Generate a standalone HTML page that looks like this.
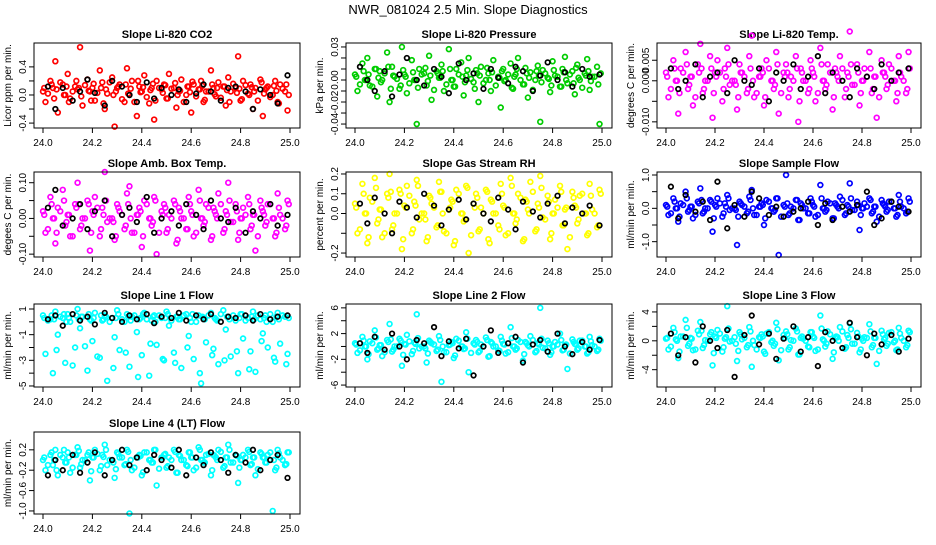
<!DOCTYPE html>
<html><head><meta charset="utf-8"><style>
html,body{margin:0;padding:0;background:#fff;}
svg text{font-family:"Liberation Sans",sans-serif;}
</style></head><body>
<svg id="c" width="936" height="540" viewBox="0 0 936 540" xmlns="http://www.w3.org/2000/svg">
<text x="468" y="14" text-anchor="middle" font-size="13">NWR_081024  2.5 Min. Slope Diagnostics</text>
</svg>
<script>
const times = [24.00,24.01,24.03,24.04,24.05,24.06,24.08,24.09,24.10,24.11,24.13,24.14,24.15,24.16,24.18,24.19,24.20,24.21,24.23,24.24,24.25,24.26,24.28,24.29,24.30,24.31,24.33,24.34,24.35,24.36,24.38,24.39,24.40,24.41,24.43,24.44,24.45,24.46,24.48,24.49,24.50,24.51,24.53,24.54,24.55,24.56,24.58,24.59,24.60,24.61,24.63,24.64,24.65,24.66,24.68,24.69,24.70,24.71,24.73,24.74,24.75,24.76,24.78,24.79,24.80,24.81,24.83,24.84,24.85,24.86,24.88,24.89,24.90,24.91,24.93,24.94,24.95,24.96,24.98,24.99];
const times2 = [24.005,24.02,24.035,24.045,24.055,24.07,24.085,24.095,24.105,24.12,24.135,24.145,24.155,24.17,24.185,24.195,24.205,24.22,24.235,24.245,24.255,24.27,24.285,24.295,24.305,24.32,24.335,24.345,24.355,24.37,24.385,24.395,24.405,24.42,24.435,24.445,24.455,24.47,24.485,24.495,24.505,24.52,24.535,24.545,24.555,24.57,24.585,24.595,24.605,24.62,24.635,24.645,24.655,24.67,24.685,24.695,24.705,24.72,24.735,24.745,24.755,24.77,24.785,24.795,24.805,24.82,24.835,24.845,24.855,24.87,24.885,24.895,24.905,24.92,24.935,24.945,24.955,24.97,24.985,24.995];
const blackTimes = [24.02,24.05,24.08,24.12,24.15,24.18,24.21,24.25,24.28,24.32,24.35,24.38,24.42,24.45,24.48,24.52,24.55,24.58,24.62,24.65,24.68,24.72,24.75,24.78,24.82,24.85,24.88,24.92,24.95,24.99];
const xTicks = [24.0,24.2,24.4,24.6,24.8,25.0];
const xTickLabels = ["24.0","24.2","24.4","24.6","24.8","25.0"];

const co2Vals = [0.05,-0.1,0.2,0.1,0.48,-0.25,0.15,0.0,0.3,-0.05,0.12,0.08,0.68,-0.15,0.22,0.05,0.1,-0.08,0.35,0.18,-0.2,0.02,0.25,-0.45,0.1,0.15,-0.1,0.38,0.0,0.2,-0.3,0.12,0.05,0.28,-0.12,0.1,-0.35,0.2,0.08,0.15,-0.05,0.3,0.1,-0.18,0.05,0.22,0.0,0.12,-0.25,0.15,0.08,0.2,-0.1,0.05,0.35,0.1,-0.02,0.18,0.12,-0.15,0.25,0.05,0.1,0.55,-0.08,0.2,0.02,0.15,-0.2,0.1,0.22,-0.3,0.08,0.12,0.0,0.2,-0.1,0.15,0.05,-0.22];
const co2Vals2 = [0.1,0.02,0.15,-0.05,0.08,0.18,0.0,0.12,-0.1,0.05,0.2,0.1,-0.02,0.14,0.06,-0.08,0.16,0.03,0.1,-0.12,0.08,0.18,0.0,0.05,0.12,-0.06,0.15,0.02,0.09,-0.1,0.2,0.04,0.11,-0.03,0.07,0.16,-0.08,0.1,0.03,0.14,-0.05,0.09,0.17,0.0,0.06,-0.1,0.12,0.04,0.19,-0.02,0.08,0.13,-0.07,0.05,0.15,0.01,0.1,-0.04,0.12,0.07,-0.1,0.16,0.03,0.09,-0.06,0.14,0.0,0.11,0.05,-0.08,0.18,0.02,0.1,-0.03,0.13,0.06,-0.12,0.09,0.15,0.0];
const co2Black = [0.12,-0.2,0.1,-0.08,0.05,0.22,0.03,-0.15,0.2,0.12,0.0,-0.1,0.18,-0.05,0.1,0.0,0.08,-0.1,0.02,0.15,0.05,-0.08,0.1,0.12,0.05,-0.2,0.08,0.0,-0.12,0.28];
const presVals = [0.005,-0.01,0.015,0.0,0.02,-0.005,0.01,-0.015,0.008,0.0,0.025,-0.02,0.012,0.003,-0.008,0.03,0.005,-0.012,0.018,0.0,-0.04,0.01,0.006,-0.005,0.022,-0.018,0.008,0.002,0.014,-0.01,0.028,0.0,-0.006,0.01,0.016,-0.014,0.004,0.02,-0.002,0.009,-0.02,0.012,0.0,0.006,-0.01,0.018,0.003,-0.025,0.01,0.0,0.015,-0.008,0.005,0.02,-0.004,0.011,-0.016,0.007,0.0,0.013,-0.038,0.009,0.002,-0.011,0.017,0.004,-0.006,0.01,0.021,-0.003,0.008,-0.013,0.014,0.0,0.006,0.019,-0.009,0.003,0.012,-0.04];
const presVals2 = [0.003,-0.004,0.008,0.0,0.005,-0.006,0.01,0.002,-0.002,0.006,0.012,-0.008,0.004,0.001,-0.005,0.009,0.003,-0.003,0.007,0.0,-0.007,0.005,0.011,-0.001,0.004,-0.009,0.006,0.002,0.008,-0.004,0.01,0.0,-0.006,0.005,0.003,-0.002,0.009,0.001,-0.008,0.006,0.004,-0.003,0.011,0.0,0.007,-0.005,0.002,0.008,-0.001,0.005,-0.007,0.003,0.01,0.0,-0.004,0.006,0.002,-0.009,0.008,0.004,-0.002,0.006,0.001,-0.005,0.009,0.003,-0.006,0.007,0.0,0.005,-0.003,0.011,0.002,-0.007,0.004,0.008,-0.001,0.003,-0.004,0.006];
const presBlack = [0.012,0.0,-0.01,0.008,-0.015,0.005,0.02,0.0,-0.005,0.01,0.003,-0.012,0.015,0.0,0.006,-0.008,0.01,0.002,-0.003,0.012,0.008,-0.01,0.004,0.016,0.0,0.007,-0.006,0.01,0.003,0.005];
const tempVals = [0.002,-0.004,0.005,0.0,-0.008,0.003,0.007,-0.002,0.001,-0.006,0.004,0.009,-0.003,0.0,0.006,-0.009,0.002,0.005,-0.005,0.003,0.008,-0.001,0.0,-0.007,0.004,0.002,-0.003,0.006,0.011,-0.004,0.001,0.003,-0.006,0.005,0.0,-0.002,0.007,-0.008,0.002,0.004,-0.004,0.001,0.006,-0.01,0.003,0.0,-0.003,0.005,0.002,-0.005,0.008,0.0,-0.002,0.004,-0.007,0.003,0.001,0.006,-0.004,0.002,0.012,-0.001,0.004,-0.006,0.0,0.003,0.007,-0.003,0.001,-0.009,0.005,0.002,-0.002,0.004,0.0,-0.005,0.006,0.001,-0.003,0.007];
const tempVals2 = [0.001,-0.002,0.003,0.0,-0.003,0.002,0.004,-0.001,0.001,-0.004,0.002,0.003,-0.002,0.0,0.003,-0.003,0.001,0.002,-0.002,0.001,0.004,0.0,-0.001,-0.004,0.002,0.001,-0.002,0.003,0.0,-0.003,0.001,0.002,-0.004,0.003,0.0,-0.001,0.004,-0.003,0.001,0.002,-0.002,0.0,0.003,-0.005,0.002,0.0,-0.002,0.003,0.001,-0.003,0.004,0.0,-0.001,0.002,-0.004,0.002,0.0,0.003,-0.002,0.001,0.004,-0.001,0.002,-0.003,0.0,0.001,0.003,-0.002,0.001,-0.004,0.002,0.001,-0.001,0.003,0.0,-0.003,0.002,0.0,-0.002,0.003];
const tempBlack = [0.003,-0.002,0.0,0.004,-0.004,0.001,0.002,-0.003,0.005,0.0,-0.001,0.003,-0.005,0.002,0.0,0.004,-0.002,0.001,0.006,-0.003,0.002,0.0,-0.004,0.003,0.001,-0.002,0.004,0.0,0.002,0.003];
const ambVals = [0.02,-0.04,0.06,0.0,-0.07,0.03,0.08,-0.02,0.01,-0.05,0.04,0.1,-0.03,0.0,0.05,-0.09,0.02,0.06,-0.05,0.03,0.13,-0.01,0.0,-0.06,0.04,0.02,-0.03,0.07,0.09,-0.04,0.01,0.03,-0.08,0.05,0.0,-0.02,0.06,-0.1,0.02,0.04,-0.04,0.01,0.05,-0.07,0.03,0.0,-0.03,0.06,0.02,-0.05,0.08,0.0,-0.02,0.04,-0.06,0.03,0.01,0.07,-0.04,0.02,0.1,-0.01,0.04,-0.06,0.0,0.03,0.06,-0.03,0.01,-0.09,0.05,0.02,-0.02,0.04,0.0,-0.05,0.07,0.01,-0.03,0.05];
const ambVals2 = [0.01,-0.03,0.04,0.0,-0.04,0.02,0.05,-0.01,0.01,-0.05,0.03,0.04,-0.02,0.0,0.04,-0.04,0.01,0.03,-0.03,0.01,0.05,0.0,-0.01,-0.05,0.03,0.01,-0.02,0.04,0.0,-0.04,0.01,0.02,-0.05,0.04,0.0,-0.01,0.05,-0.04,0.01,0.03,-0.03,0.0,0.04,-0.06,0.02,0.0,-0.03,0.04,0.01,-0.04,0.05,0.0,-0.01,0.03,-0.05,0.02,0.0,0.04,-0.03,0.01,0.05,-0.01,0.02,-0.04,0.0,0.01,0.04,-0.02,0.01,-0.05,0.03,0.01,-0.01,0.04,0.0,-0.04,0.03,0.0,-0.02,0.04];
const ambBlack = [0.03,0.08,-0.02,0.0,0.04,-0.03,0.02,0.05,-0.05,0.01,0.03,-0.01,0.06,-0.04,0.0,0.02,-0.02,0.04,0.01,-0.03,0.05,0.0,-0.01,0.03,-0.04,0.02,0.0,0.04,-0.02,0.01];
const rhVals = [0.05,-0.1,0.15,0.0,-0.15,0.08,0.18,-0.05,0.02,-0.12,0.1,0.2,-0.08,0.0,0.12,-0.18,0.04,0.14,-0.1,0.06,0.17,-0.03,0.0,-0.14,0.09,0.05,-0.07,0.16,0.11,-0.09,0.02,0.07,-0.16,0.12,0.0,-0.04,0.14,-0.2,0.05,0.1,-0.09,0.03,0.12,-0.13,0.07,0.0,-0.06,0.15,0.04,-0.11,0.18,0.0,-0.05,0.1,-0.14,0.07,0.02,0.16,-0.09,0.05,0.19,-0.02,0.09,-0.13,0.0,0.07,0.14,-0.06,0.02,-0.18,0.11,0.04,-0.05,0.09,0.0,-0.11,0.15,0.02,-0.07,0.12];
const rhVals2 = [0.03,-0.08,0.1,0.0,-0.12,0.06,0.13,-0.03,0.02,-0.1,0.08,0.11,-0.06,0.0,0.1,-0.13,0.03,0.09,-0.08,0.04,0.14,0.0,-0.03,-0.12,0.08,0.03,-0.06,0.11,0.0,-0.1,0.03,0.06,-0.14,0.1,0.0,-0.03,0.13,-0.11,0.03,0.08,-0.08,0.0,0.11,-0.15,0.06,0.0,-0.08,0.1,0.03,-0.1,0.14,0.0,-0.03,0.08,-0.13,0.06,0.0,0.11,-0.08,0.03,0.13,-0.03,0.06,-0.1,0.0,0.03,0.11,-0.06,0.03,-0.12,0.08,0.03,-0.03,0.1,0.0,-0.1,0.09,0.0,-0.06,0.1];
const rhBlack = [0.05,-0.05,0.08,0.0,-0.1,0.06,0.03,-0.02,0.1,0.04,-0.06,0.02,0.07,-0.03,0.05,0.0,-0.04,0.08,0.02,-0.08,0.06,0.01,-0.02,0.05,0.09,-0.05,0.03,0.0,0.04,-0.06];
const flowVals = [0.1,-0.2,0.3,0.0,-0.4,0.15,0.5,-0.1,0.05,-0.3,0.2,0.6,-0.15,0.0,0.25,-0.7,0.1,0.3,-0.25,0.15,0.4,-0.05,0.0,-1.1,0.2,0.1,-0.15,0.35,0.55,-0.2,0.05,0.15,-0.5,0.25,0.0,-0.1,0.3,-1.4,0.1,1.0,-0.2,0.05,0.25,-0.35,0.15,0.0,-0.15,0.3,0.1,-0.25,0.7,0.0,-0.1,0.2,-0.3,0.15,0.05,0.35,-0.2,0.1,0.75,-0.05,0.2,-0.65,0.0,0.15,0.3,-0.15,0.05,-0.4,0.25,0.1,-0.1,0.2,0.0,-0.25,0.4,0.05,-0.15,0.3];
const flowVals2 = [0.05,-0.15,0.2,0.0,-0.25,0.1,0.3,-0.05,0.05,-0.2,0.15,0.25,-0.1,0.0,0.2,-0.3,0.05,0.15,-0.15,0.05,0.3,0.0,-0.05,-0.25,0.15,0.05,-0.1,0.25,0.0,-0.2,0.05,0.1,-0.3,0.2,0.0,-0.05,0.3,-0.25,0.05,0.15,-0.15,0.0,0.25,-0.35,0.1,0.0,-0.15,0.2,0.05,-0.2,0.3,0.0,-0.05,0.15,-0.3,0.1,0.0,0.25,-0.15,0.05,0.3,-0.05,0.1,-0.2,0.0,0.05,0.25,-0.1,0.05,-0.25,0.15,0.05,-0.05,0.2,0.0,-0.2,0.2,0.0,-0.1,0.2];
const flowBlack = [0.65,-0.3,0.4,-0.1,0.2,-0.35,0.8,-0.6,0.1,-0.25,0.5,0.3,-0.2,0.05,-0.25,-0.1,0.0,0.2,-0.5,0.15,-0.35,0.05,-0.1,0.1,0.5,-0.5,-0.3,0.2,0.05,-0.1];
const line1Vals = [0.5,-2.5,0.2,-4.0,0.8,-1.0,0.3,-3.2,0.6,0.0,-2.0,1.0,-0.5,0.4,-3.8,0.2,-1.5,0.7,-2.8,0.1,0.5,-4.6,0.3,-1.2,0.9,-2.2,0.0,0.6,-3.5,0.4,-0.8,0.2,-2.6,0.7,-4.2,0.1,0.5,-1.8,0.3,-3.0,0.8,-0.3,-2.4,0.4,0.2,-3.6,0.6,-1.1,0.0,-2.9,0.5,-4.8,0.3,-1.6,0.7,-2.1,0.2,-3.3,0.9,-0.6,0.4,-2.7,0.1,-4.0,0.6,-1.3,0.3,-2.3,0.8,-3.9,0.2,-0.9,0.5,-2.0,0.0,-3.1,0.7,-1.7,0.4,-2.5];
const line1Vals2 = [0.3,0.1,0.5,0.2,-2.2,0.4,0.6,0.0,0.3,-3.4,0.5,0.2,0.4,-1.9,0.6,0.1,0.3,-2.7,0.5,0.2,0.4,0.0,-3.6,0.3,0.6,0.2,-2.4,0.4,0.1,0.5,-4.3,0.3,0.6,0.2,-1.7,0.4,0.0,0.5,-2.9,0.3,0.6,0.1,-3.2,0.4,0.2,0.5,-2.0,0.3,0.6,0.0,-4.0,0.4,0.2,0.5,-2.6,0.3,0.1,0.6,-3.0,0.4,0.2,0.5,-2.3,0.3,0.6,0.1,-3.7,0.4,0.2,0.5,-1.5,0.3,0.0,0.6,-2.8,0.4,0.2,0.5,-3.3,0.3];
const line1Black = [0.2,0.5,-0.3,0.6,0.1,0.4,-0.2,0.7,0.3,0.0,0.5,0.2,0.6,-0.1,0.4,0.3,0.7,0.1,0.5,0.2,0.6,0.0,0.4,0.3,0.5,0.1,0.6,0.2,0.4,0.5];
const line2Vals = [0.5,-1.0,1.5,0.0,-2.0,0.8,2.5,-0.5,0.2,-1.5,1.0,3.5,-0.8,0.0,1.2,-3.0,0.4,1.8,-1.2,0.6,5.0,-0.3,0.0,-2.5,0.9,0.5,-0.7,1.6,-5.5,-0.9,0.2,0.7,-1.8,1.2,0.0,-0.4,2.2,-4.0,0.5,1.0,-0.9,0.3,1.4,-1.6,0.7,0.0,-0.6,1.5,0.4,-1.1,3.0,0.0,-0.5,1.0,-2.2,0.7,0.2,1.6,-0.9,0.5,6.0,-0.2,0.9,-1.3,0.0,0.7,2.0,-0.6,0.2,-3.5,1.1,0.4,-0.5,0.9,0.0,-1.1,1.5,0.2,-0.7,1.2];
const line2Vals2 = [0.3,-0.6,0.9,0.0,-1.2,0.5,1.4,-0.3,0.2,-0.9,0.7,1.1,-0.5,0.0,0.9,-1.3,0.3,0.8,-0.7,0.4,1.3,0.0,-0.3,-1.1,0.7,0.3,-0.5,1.0,0.0,-0.9,0.3,0.5,-1.4,0.9,0.0,-0.3,1.2,-1.0,0.3,0.7,-0.7,0.0,1.0,-1.5,0.5,0.0,-0.7,0.9,0.3,-0.9,1.3,0.0,-0.3,0.7,-1.2,0.5,0.0,1.0,-0.7,0.3,1.2,-0.3,0.5,-0.9,0.0,0.3,1.0,-0.5,0.3,-1.1,0.7,0.3,-0.3,0.9,0.0,-0.9,0.8,0.0,-0.5,0.9];
const line2Black = [0.5,-1.0,1.5,-0.5,2.0,0.0,-2.0,1.0,0.5,3.0,-1.5,0.8,-0.3,1.2,-4.5,0.0,2.5,-1.0,0.5,1.5,-2.5,0.3,1.0,-0.8,2.0,0.0,-1.2,0.7,-0.5,1.0];
const line3Vals = [0.3,-1.2,1.8,0.2,-2.4,0.6,2.9,-0.7,0.4,-1.3,1.4,2.6,-1.0,0.1,0.9,-3.4,0.6,1.5,-1.5,0.3,4.8,-0.1,0.5,-2.8,1.2,0.2,-0.9,1.9,-3.6,-0.6,0.5,0.9,-1.5,1.0,-0.2,-0.7,2.5,-2.7,0.8,1.3,-1.2,0.1,1.7,-1.9,0.4,0.3,-0.8,1.2,0.6,-1.4,3.5,0.2,-0.8,1.3,-2.5,0.4,0.5,1.9,-1.1,0.8,2.4,-0.4,1.1,-1.6,0.3,0.5,2.3,-0.9,0.4,-3.2,1.4,0.2,-0.7,1.1,-0.2,-1.3,1.8,0.4,-0.9,1.4];
const line3Vals2 = [0.4,-0.8,1.2,0.0,-1.5,0.6,1.8,-0.4,0.3,-1.2,0.9,1.4,-0.6,0.0,1.2,-1.7,0.4,1.0,-0.9,0.5,1.7,0.0,-0.4,-1.4,0.9,0.4,-0.6,1.3,0.0,-1.2,0.4,0.6,-1.8,1.2,0.0,-0.4,1.6,-1.3,0.4,0.9,-0.9,0.0,1.3,-1.9,0.6,0.0,-0.9,1.2,0.4,-1.2,1.7,0.0,-0.4,0.9,-1.6,0.6,0.0,1.3,-0.9,0.4,1.6,-0.4,0.6,-1.2,0.0,0.4,1.3,-0.6,0.4,-1.4,0.9,0.4,-0.4,1.2,0.0,-1.2,1.0,0.0,-0.6,1.2];
const line3Black = [1.0,-2.0,0.5,-3.0,2.0,0.0,-1.0,1.5,-5.0,0.8,3.5,-0.5,1.0,-2.5,0.3,2.0,-1.5,0.5,-3.5,1.2,0.0,-1.0,2.5,0.5,-2.0,1.0,-0.5,0.8,-1.5,0.3];
const line4Vals = [0.0,-0.2,0.1,-0.1,0.2,-0.3,0.05,-0.05,0.15,-0.25,0.1,0.25,-0.15,0.0,0.1,-0.4,0.05,0.2,-0.2,0.1,0.3,-0.1,0.0,-0.35,0.15,0.05,-0.1,0.2,-1.05,-0.2,0.05,0.1,-0.3,0.15,0.0,-0.05,0.2,-0.5,0.05,0.1,-0.15,0.05,0.2,-0.25,0.1,0.0,-0.1,0.15,0.05,-0.2,0.25,0.0,-0.05,0.1,-0.3,0.1,0.05,0.2,-0.15,0.05,0.3,-0.05,0.1,-0.45,0.0,0.1,0.2,-0.1,0.05,-0.3,0.15,0.05,-0.05,0.1,-1.0,-0.2,0.2,0.05,-0.1,0.15];
const line4Vals2 = [0.05,-0.1,0.15,0.0,-0.2,0.1,0.2,-0.05,0.05,-0.15,0.1,0.18,-0.08,0.0,0.15,-0.22,0.05,0.12,-0.12,0.06,0.2,0.0,-0.05,-0.18,0.12,0.05,-0.08,0.16,0.0,-0.15,0.05,0.08,-0.24,0.15,0.0,-0.05,0.2,-0.17,0.05,0.12,-0.12,0.0,0.16,-0.25,0.08,0.0,-0.12,0.15,0.05,-0.15,0.2,0.0,-0.05,0.12,-0.2,0.08,0.0,0.16,-0.12,0.05,0.2,-0.05,0.08,-0.15,0.0,0.05,0.16,-0.08,0.05,-0.18,0.12,0.05,-0.05,0.15,0.0,-0.15,0.13,0.0,-0.08,0.15];
const line4Black = [-0.3,0.0,-0.2,0.1,-0.25,-0.05,0.15,-0.3,0.0,0.2,-0.1,0.05,-0.2,0.1,0.0,-0.15,0.2,-0.3,0.05,-0.1,0.15,0.0,-0.25,0.1,-0.05,0.2,-0.2,0.0,0.1,-0.35];

const co2Ticks=[-0.4,-0.2,0,0.2,0.4], co2Labels=["-0.4","","0.0","","0.4"];
const presTicks=[-0.04,-0.03,-0.02,-0.01,0,0.01,0.02,0.03], presLabels=["-0.04","","-0.02","","0.00","","","0.03"];
const tempTicks=[-0.01,-0.005,0,0.005], tempLabels=["-0.010","","0.000","0.005"];
const ambTicks=[-0.1,-0.05,0,0.05,0.1], ambLabels=["-0.10","","0.00","","0.10"];
const rhTicks=[-0.2,-0.1,0,0.1,0.2], rhLabels=["-0.2","","0.0","0.1","0.2"];
const flowTicks=[-1,-0.5,0,0.5,1], flowLabels=["-1.0","","0.0","","1.0"];
const line1Ticks=[-5,-4,-3,-2,-1,0,1], line1Labels=["-5","","-3","","-1","","1"];
const line2Ticks=[-6,-4,-2,0,2,4,6], line2Labels=["-6","","-2","","2","","6"];
const line3Ticks=[-4,-2,0,2,4], line3Labels=["-4","","0","","4"];
const line4Ticks=[-1.0,-0.6,-0.2,0.2], line4Labels=["-1.0","-0.6","-0.2","0.2"];

const cols=[[34,300],[346,612],[657,921]];
const rows=[[43,128],[172,257],[304,387],[432,514]];
const panels=[
 {t:"Slope Li-820 CO2",yl:"Licor ppm per min.",c:"#ff0000",v:co2Vals,v2:co2Vals2,b:co2Black,tk:co2Ticks,lb:co2Labels,lo:-0.47,hi:0.74,r:0,k:0,n:"co2"},
 {t:"Slope Li-820 Pressure",yl:"kPa per min.",c:"#00cd00",v:presVals,v2:presVals2,b:presBlack,tk:presTicks,lb:presLabels,lo:-0.0436,hi:0.0336,r:0,k:1,n:"pressure"},
 {t:"Slope Li-820 Temp.",yl:"degrees C per min.",c:"#ff00ff",v:tempVals,v2:tempVals2,b:tempBlack,tk:tempTicks,lb:tempLabels,lo:-0.0115,hi:0.0092,r:0,k:2,n:"temp"},
 {t:"Slope Amb. Box Temp.",yl:"degees C per min.",c:"#ff00ff",v:ambVals,v2:ambVals2,b:ambBlack,tk:ambTicks,lb:ambLabels,lo:-0.108,hi:0.13,r:1,k:0,n:"amb-box-temp"},
 {t:"Slope Gas Stream RH",yl:"percent per min.",c:"#ffff00",v:rhVals,v2:rhVals2,b:rhBlack,tk:rhTicks,lb:rhLabels,lo:-0.22,hi:0.21,r:1,k:1,n:"rh"},
 {t:"Slope Sample Flow",yl:"ml/min per min.",c:"#0000ff",v:flowVals,v2:flowVals2,b:flowBlack,tk:flowTicks,lb:flowLabels,lo:-1.46,hi:1.09,r:1,k:2,n:"sample-flow"},
 {t:"Slope Line 1 Flow",yl:"ml/min per min.",c:"#00ffff",v:line1Vals,v2:line1Vals2,b:line1Black,tk:line1Ticks,lb:line1Labels,lo:-5.08,hi:1.39,r:2,k:0,n:"line1"},
 {t:"Slope Line 2 Flow",yl:"ml/min per min.",c:"#00ffff",v:line2Vals,v2:line2Vals2,b:line2Black,tk:line2Ticks,lb:line2Labels,lo:-6.3,hi:6.6,r:2,k:1,n:"line2"},
 {t:"Slope Line 3 Flow",yl:"ml/min per min.",c:"#00ffff",v:line3Vals,v2:line3Vals2,b:line3Black,tk:line3Ticks,lb:line3Labels,lo:-6.4,hi:5.1,r:2,k:2,n:"line3"},
 {t:"Slope Line 4 (LT) Flow",yl:"ml/min per min.",c:"#00ffff",v:line4Vals,v2:line4Vals2,b:line4Black,tk:line4Ticks,lb:line4Labels,lo:-1.06,hi:0.55,r:3,k:0,n:"line4"}
];
const svg=document.getElementById('c');
const NS="http://www.w3.org/2000/svg";
function mk(tag,attrs,parent){const e=document.createElementNS(NS,tag);for(const k in attrs)e.setAttribute(k,attrs[k]);(parent||svg).appendChild(e);return e;}
panels.forEach(p=>{
 const L=cols[p.k][0],R=cols[p.k][1],T=rows[p.r][0],B=rows[p.r][1];
 const g=mk('g',{});
 
 
 const xs=v=>L+9+(v-24)*(R-L-19);
 const ys=v=>B-(v-p.lo)/(p.hi-p.lo)*(B-T);
 const tt=mk('text',{x:(L+R)/2,y:T-5,'text-anchor':'middle','font-size':'11','font-weight':'bold'},g);tt.textContent=p.t;
 
 
 const pts=mk('g',{fill:'none','stroke-width':'1.7'},g);
 
 
 const n=Math.min(times.length,p.v.length);
 for(let i=0;i<n;i++){const c=mk('circle',{cx:xs(times[i]),cy:ys(p.v[i]),r:2.4,stroke:p.c},pts);
  
  }
 const n2=Math.min(times2.length,p.v2.length);
 for(let i=0;i<n2;i++){const c=mk('circle',{cx:xs(times2[i]),cy:ys(p.v2[i]),r:2.4,stroke:p.c},pts);
  
  }
 const bn=Math.min(blackTimes.length,p.b.length);
 for(let i=0;i<bn;i++){const c=mk('circle',{cx:xs(blackTimes[i]),cy:ys(p.b[i]),r:2.3,stroke:'#000'},pts);
  
  }
 const box=mk('rect',{x:L,y:T,width:R-L,height:B-T,fill:'none',stroke:'#000','stroke-width':'1'},g);
 
 
 xTicks.forEach((v,i)=>{const x=xs(v);mk('line',{x1:x,x2:x,y1:B,y2:B+5,stroke:'#000'},g);
  const t=mk('text',{x:x,y:B+18,'text-anchor':'middle','font-size':'10'},g);t.textContent=xTickLabels[i];
  
  });
 p.tk.forEach((v,i)=>{const y=ys(v);mk('line',{x1:L-5,x2:L,y1:y,y2:y,stroke:'#000'},g);
  if(p.lb[i]){const t=mk('text',{x:L-8,y:y,'text-anchor':'middle','font-size':'10',transform:`rotate(-90 ${L-8} ${y})`},g);t.textContent=p.lb[i];
  
  }});
 const cy=(T+B)/2;
 const yt=mk('text',{x:L-23,y:cy,'text-anchor':'middle','font-size':'10',transform:`rotate(-90 ${L-23} ${cy})`},g);yt.textContent=p.yl;
 
 
});
</script>
</body></html>
